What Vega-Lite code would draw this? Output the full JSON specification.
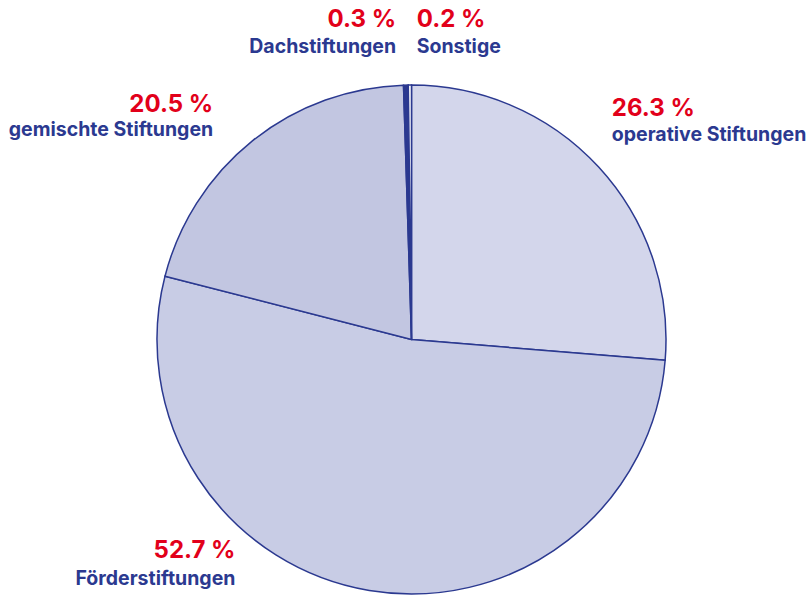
{
  "$schema": "https://vega.github.io/schema/vega-lite/v6.json",
  "width": 509,
  "height": 509,
  "autosize": "none",
  "padding": {"left": 157, "top": 85, "right": 145, "bottom": 2},
  "background": "white",
  "config": {"view": {"stroke": null}, "text": {"font": "Inter", "fontWeight": 700}},
  "data": {
    "values": [
      {"cat": "operative Stiftungen", "value": 26.3, "order": 1, "label": "26.3 %"},
      {"cat": "Förderstiftungen", "value": 52.7, "order": 2, "label": "52.7 %"},
      {"cat": "gemischte Stiftungen", "value": 20.5, "order": 3, "label": "20.5 %"},
      {"cat": "Dachstiftungen", "value": 0.3, "order": 4, "label": "0.3 %"},
      {"cat": "Sonstige", "value": 0.2, "order": 5, "label": "0.2 %"}
    ]
  },
  "layer": [
    {
      "mark": {"type": "arc", "stroke": "#2b3990", "strokeWidth": 1.5},
      "encoding": {
        "theta": {"field": "value", "type": "quantitative", "stack": true, "scale": {"domain": [0, 100]}},
        "order": {"field": "order", "type": "quantitative"},
        "color": {
          "field": "cat",
          "type": "nominal",
          "legend": null,
          "scale": {
            "domain": ["operative Stiftungen", "Förderstiftungen", "gemischte Stiftungen", "Dachstiftungen", "Sonstige"],
            "range": ["#d3d6eb", "#c8cce5", "#c2c6e1", "#2b3990", "#ffffff"]
          }
        }
      }
    },
    {
      "transform": [
        {"stack": "value", "groupby": [], "sort": [{"field": "order"}], "as": ["v0", "v1"]},
        {"calculate": "(datum.v0 + datum.v1) / 2", "as": "mid"},
        {"filter": "datum.order == 1"}
      ],
      "layer": [
        {"mark": {"type": "text", "radius": 290, "align": "left", "baseline": "alphabetic", "dx": -13, "dy": -27, "fontSize": 24, "color": "#e2001a"},
         "encoding": {"theta": {"field": "mid", "type": "quantitative", "stack": null}, "text": {"field": "label"}}},
        {"mark": {"type": "text", "radius": 290, "align": "left", "baseline": "alphabetic", "dx": -13, "dy": -2, "fontSize": 19.5, "color": "#2b3990"},
         "encoding": {"theta": {"field": "mid", "type": "quantitative", "stack": null}, "text": {"field": "cat"}}}
      ]
    },
    {
      "transform": [
        {"stack": "value", "groupby": [], "sort": [{"field": "order"}], "as": ["v0", "v1"]},
        {"calculate": "(datum.v0 + datum.v1) / 2", "as": "mid"},
        {"filter": "datum.order == 2"}
      ],
      "layer": [
        {"mark": {"type": "text", "radius": 290, "align": "right", "baseline": "alphabetic", "dx": -128, "dy": -67, "fontSize": 24, "color": "#e2001a"},
         "encoding": {"theta": {"field": "mid", "type": "quantitative", "stack": null}, "text": {"field": "label"}}},
        {"mark": {"type": "text", "radius": 290, "align": "right", "baseline": "alphabetic", "dx": -128, "dy": -40, "fontSize": 19.5, "color": "#2b3990"},
         "encoding": {"theta": {"field": "mid", "type": "quantitative", "stack": null}, "text": {"field": "cat"}}}
      ]
    },
    {
      "transform": [
        {"stack": "value", "groupby": [], "sort": [{"field": "order"}], "as": ["v0", "v1"]},
        {"calculate": "(datum.v0 + datum.v1) / 2", "as": "mid"},
        {"filter": "datum.order == 3"}
      ],
      "layer": [
        {"mark": {"type": "text", "radius": 290, "align": "right", "baseline": "alphabetic", "dx": -17, "dy": -1, "fontSize": 24, "color": "#e2001a"},
         "encoding": {"theta": {"field": "mid", "type": "quantitative", "stack": null}, "text": {"field": "label"}}},
        {"mark": {"type": "text", "radius": 290, "align": "right", "baseline": "alphabetic", "dx": -17, "dy": 23, "fontSize": 19.5, "color": "#2b3990"},
         "encoding": {"theta": {"field": "mid", "type": "quantitative", "stack": null}, "text": {"field": "cat"}}}
      ]
    },
    {
      "transform": [
        {"stack": "value", "groupby": [], "sort": [{"field": "order"}], "as": ["v0", "v1"]},
        {"calculate": "(datum.v0 + datum.v1) / 2", "as": "mid"},
        {"filter": "datum.order == 4"}
      ],
      "layer": [
        {"mark": {"type": "text", "radius": 290, "align": "right", "baseline": "alphabetic", "dx": -9, "dy": -23, "fontSize": 24, "color": "#e2001a"},
         "encoding": {"theta": {"field": "mid", "type": "quantitative", "stack": null}, "text": {"field": "label"}}},
        {"mark": {"type": "text", "radius": 290, "align": "right", "baseline": "alphabetic", "dx": -9, "dy": 3, "fontSize": 19.5, "color": "#2b3990"},
         "encoding": {"theta": {"field": "mid", "type": "quantitative", "stack": null}, "text": {"field": "cat"}}}
      ]
    },
    {
      "transform": [
        {"stack": "value", "groupby": [], "sort": [{"field": "order"}], "as": ["v0", "v1"]},
        {"calculate": "(datum.v0 + datum.v1) / 2", "as": "mid"},
        {"filter": "datum.order == 5"}
      ],
      "layer": [
        {"mark": {"type": "text", "radius": 290, "align": "left", "baseline": "alphabetic", "dx": 7, "dy": -23, "fontSize": 24, "color": "#e2001a"},
         "encoding": {"theta": {"field": "mid", "type": "quantitative", "stack": null}, "text": {"field": "label"}}},
        {"mark": {"type": "text", "radius": 290, "align": "left", "baseline": "alphabetic", "dx": 7, "dy": 3, "fontSize": 19.5, "color": "#2b3990"},
         "encoding": {"theta": {"field": "mid", "type": "quantitative", "stack": null}, "text": {"field": "cat"}}}
      ]
    }
  ]
}
